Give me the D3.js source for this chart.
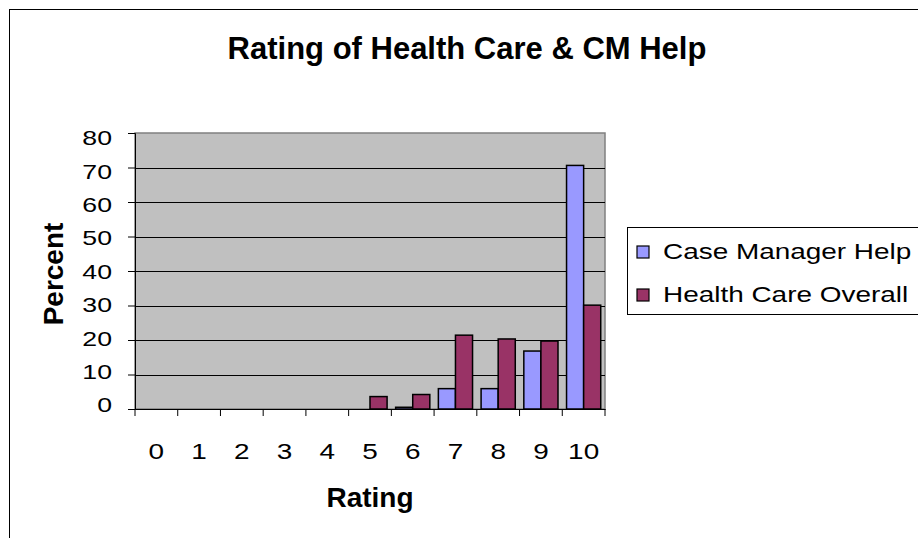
<!DOCTYPE html>
<html lang="en">
  <head>
    <meta charset="UTF-8" />
    <title>Rating of Health Care &amp; CM Help</title>
    <script src="https://cdn.jsdelivr.net/npm/d3@7"></script>
    <style>
      body { margin: 0; background: #fff; }
      text { font-family: "Liberation Sans", Arial, sans-serif; fill: #000; }
    </style>
  </head>
  <body>
    <svg id="chart" width="918" height="538"></svg>
    <script>
      // data
      const ratings = ["0", "1", "2", "3", "4", "5", "6", "7", "8", "9", "10"];
      const caseManagerHelp = [0, 0, 0, 0, 0, 0, 0.5, 5.9, 5.9, 16.8, 70.6];
      const healthCareOverall = [0, 0, 0, 0, 0, 3.6, 4.2, 21.4, 20.3, 19.7, 30.1];
      const seriesNames = ["Case Manager Help", "Health Care Overall"];
      const seriesColors = ["#9999FF", "#993366"];
      const yTicks = [0, 10, 20, 30, 40, 50, 60, 70, 80];

      const svg = d3.select("#chart");
      const plot = { left: 135, right: 605, top: 133, bottom: 409 };
      const stretch = 1.27; // the plain text in the picture is drawn wide

      // outer chart border (runs off the right / bottom)
      svg.append("rect")
        .attr("x", 9.5).attr("y", 9.5)
        .attr("width", 1000).attr("height", 1000)
        .attr("fill", "none").attr("stroke", "#000").attr("stroke-width", 1);

      const x = d3.scaleBand().domain(ratings).range([plot.left, plot.right]);
      const x1 = d3.scaleBand().domain([0, 1]).range([0, x.bandwidth()]).paddingOuter(0.25);
      const y = d3.scaleLinear().domain([0, 80]).range([plot.bottom, plot.top]);
      // tick labels sit a little off their ticks in the original
      const yLabel = d3.scaleLinear().domain([0, 80]).range([405, 138]);

      // plot area
      svg.append("rect")
        .attr("x", plot.left).attr("y", plot.top)
        .attr("width", plot.right - plot.left).attr("height", plot.bottom - plot.top)
        .attr("fill", "#C0C0C0").attr("stroke", "#808080").attr("stroke-width", 1.5);

      // gridlines
      svg.append("g").selectAll("line")
        .data(yTicks.filter((d) => d > 0 && d < 80))
        .join("line")
        .attr("x1", plot.left).attr("x2", plot.right)
        .attr("y1", (d) => Math.round(y(d)) + 0.5).attr("y2", (d) => Math.round(y(d)) + 0.5)
        .attr("stroke", "#000").attr("stroke-width", 1);

      // bars
      const rows = ratings.map((r, i) => ({ r, vals: [caseManagerHelp[i], healthCareOverall[i]] }));
      const groups = svg.append("g").selectAll("g")
        .data(rows).join("g")
        .attr("transform", (d) => `translate(${x(d.r)},0)`);
      groups.selectAll("rect")
        .data((d) => d.vals.map((v, k) => ({ v, k })).filter((e) => e.v > 0))
        .join("rect")
        .attr("x", (d) => x1(d.k))
        .attr("y", (d) => y(d.v))
        .attr("width", x1.bandwidth())
        .attr("height", (d) => plot.bottom - y(d.v))
        .attr("fill", (d) => seriesColors[d.k])
        .attr("stroke", "#000").attr("stroke-width", 1.5);

      // y axis
      const yAxis = svg.append("g")
        .attr("transform", `translate(${plot.left},0)`)
        .call(d3.axisLeft(y).tickValues(yTicks).tickSize(7).tickFormat(""));
      yAxis.select(".domain").attr("stroke", "#000");
      svg.append("g").selectAll("text")
        .data(yTicks).join("text")
        .attr("transform", (d) => `translate(112,${yLabel(d)}) scale(${stretch},1)`)
        .attr("text-anchor", "end").attr("dy", "0.35em")
        .style("font-size", "21px")
        .text((d) => d);

      // x axis
      const xAxis = svg.append("g")
        .attr("transform", `translate(0,${plot.bottom})`)
        .call(d3.axisBottom(x).tickSize(0).tickFormat(""));
      xAxis.select(".domain").attr("stroke", "#000");
      xAxis.selectAll(".sep")
        .data(d3.range(ratings.length + 1))
        .join("line")
        .attr("class", "sep")
        .attr("x1", (i) => plot.left + i * x.step()).attr("x2", (i) => plot.left + i * x.step())
        .attr("y1", 0).attr("y2", 7)
        .attr("stroke", "#000");
      svg.append("g").selectAll("text")
        .data(ratings).join("text")
        .attr("transform", (d) => `translate(${x(d) + x.bandwidth() / 2},459) scale(${stretch},1)`)
        .attr("text-anchor", "middle")
        .style("font-size", "22px")
        .text((d) => d);

      // titles
      svg.append("text")
        .attr("x", 467).attr("y", 59)
        .attr("text-anchor", "middle")
        .style("font-size", "31px").style("font-weight", "bold")
        .text("Rating of Health Care & CM Help");

      svg.append("text")
        .attr("x", 370).attr("y", 507)
        .attr("text-anchor", "middle")
        .style("font-size", "28px").style("font-weight", "bold")
        .text("Rating");

      svg.append("text")
        .attr("transform", "translate(63,274) rotate(-90)")
        .attr("text-anchor", "middle")
        .style("font-size", "28px").style("font-weight", "bold")
        .text("Percent");

      // legend
      const legend = svg.append("g");
      legend.append("rect")
        .attr("x", 627.5).attr("y", 227.5)
        .attr("width", 400).attr("height", 87)
        .attr("fill", "#fff").attr("stroke", "#000").attr("stroke-width", 1);
      const items = legend.selectAll("g.item")
        .data(seriesNames).join("g")
        .attr("class", "item")
        .attr("transform", (d, i) => `translate(637,${258 + i * 43})`);
      items.append("rect")
        .attr("x", 0).attr("y", -12).attr("width", 12).attr("height", 12)
        .attr("fill", (d, i) => seriesColors[i])
        .attr("stroke", "#000").attr("stroke-width", 1.2);
      items.append("text")
        .attr("transform", `translate(26,1) scale(${stretch},1)`)
        .style("font-size", "22px")
        .text((d) => d);
    </script>
  </body>
</html>
